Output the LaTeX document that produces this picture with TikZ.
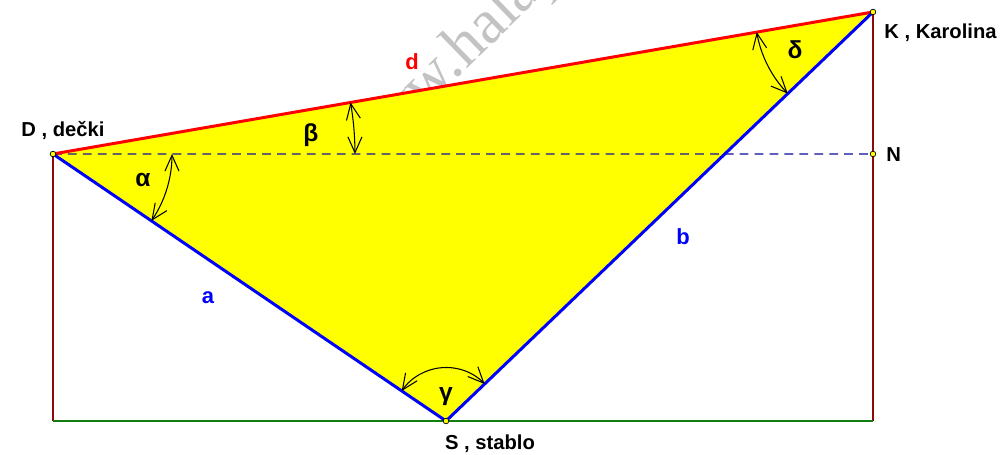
\documentclass[tikz,border=0pt]{standalone}
\usepackage{fontspec}
\setmainfont{Liberation Sans}
\newfontfamily\wmfont{Liberation Serif}
\definecolor{sidered}{RGB}{255,0,0}
\definecolor{sideblue}{RGB}{0,0,255}
\definecolor{wallbrown}{RGB}{140,10,10}
\definecolor{groundgreen}{RGB}{15,125,15}
\definecolor{dashgray}{RGB}{100,100,100}
\definecolor{dashblue}{RGB}{95,95,190}
\definecolor{wmgray}{RGB}{195,195,195}
\definecolor{trifill}{RGB}{255,255,0}
\usetikzlibrary{arrows.meta, angles}
\tikzset{
  pt/.style={circle, inner sep=0pt, minimum size=3.2pt, fill=trifill, draw=black, line width=0.4pt},
  ptlabel/.style={font=\fontsize{11.5}{13}\selectfont\bfseries},
  sidelabel/.style={font=\fontsize{12.5}{14}\selectfont\bfseries},
  anglabel/.style={font=\fontsize{14}{16}\selectfont\bfseries},
  anglearc/.style={draw, line width=0.6pt,
    {Straight Barb[length=9pt,width=8pt]}-{Straight Barb[length=9pt,width=8pt]}},
  wall/.style={wallbrown, line width=1.4pt},
  side/.style={line width=1.7pt}
}

\begin{document}
\begin{tikzpicture}[x=0.02cm, y=-0.02cm]
  \clip (0,0) rectangle (1000,455);

  % Points of the figure
  \coordinate (D) at (53,154);
  \coordinate (K) at (873,12);
  \coordinate (N) at (873,154);
  \coordinate (S) at (446,421);
  \coordinate (DB) at (53,421);
  \coordinate (KB) at (873,421);
  \coordinate (X) at (intersection of D--N and S--K);

  % Watermark
  \node[font=\wmfont\fontsize{36}{42}\selectfont, text=wmgray, rotate=44, anchor=base west, inner sep=0pt]
    (wm) at (359,173) {www.halapa.com};

  % Triangle
  \fill[trifill] (D) -- (K) -- (S) -- cycle;

  % Horizontal through D
  \draw[dashgray, line width=0.9pt, dash pattern=on 5pt off 3.5pt] (D) -- (X);
  \draw[dashblue, line width=0.9pt, dash pattern=on 5pt off 3.5pt] (X) -- (N);

  % Walls and ground
  \draw[wall] (D) -- (DB);
  \draw[wall] (K) -- (KB);
  \draw[groundgreen, line width=1.7pt] (DB) -- (KB);

  % Sides
  \draw[side, sidered] (D) -- (K);
  \draw[side, sideblue] (D) -- (S) -- (K);

  % Angles
  \pic[anglearc, angle radius=2.38cm] {angle = S--D--N};
  \pic[anglearc, angle radius=6.04cm] {angle = N--D--K};
  \pic[anglearc, angle radius=2.36cm] {angle = D--K--S};
  \pic[anglearc, angle radius=1.07cm] {angle = K--S--D};

  \foreach \p in {D,K,N,S}
    \node[pt] (\p-pt) at (\p) {};

  % Labels
  \node[ptlabel] (D-lab) at (63,131) {D , dečki};
  \node[ptlabel, anchor=west, inner sep=0pt] (K-lab) at (884,33) {K , Karolina};
  \node[ptlabel, anchor=west, inner sep=0pt] (N-lab) at (886,155) {N};
  \node[ptlabel] (S-lab) at (490,444) {S , stablo};

  \node[sidelabel, text=sidered] (d-lab) at (412,62) {d};
  \node[sidelabel, text=sideblue] (a-lab) at (208,298) {a};
  \node[sidelabel, text=sideblue] (b-lab) at (683,237) {b};

  \node[anglabel] (al-lab) at (143,180) {α};
  \node[anglabel] (be-lab) at (311,135) {β};
  \node[anglabel] (ga-lab) at (446,397) {γ};
  \node[anglabel] (de-lab) at (795,50) {δ};
\end{tikzpicture}
\end{document}
